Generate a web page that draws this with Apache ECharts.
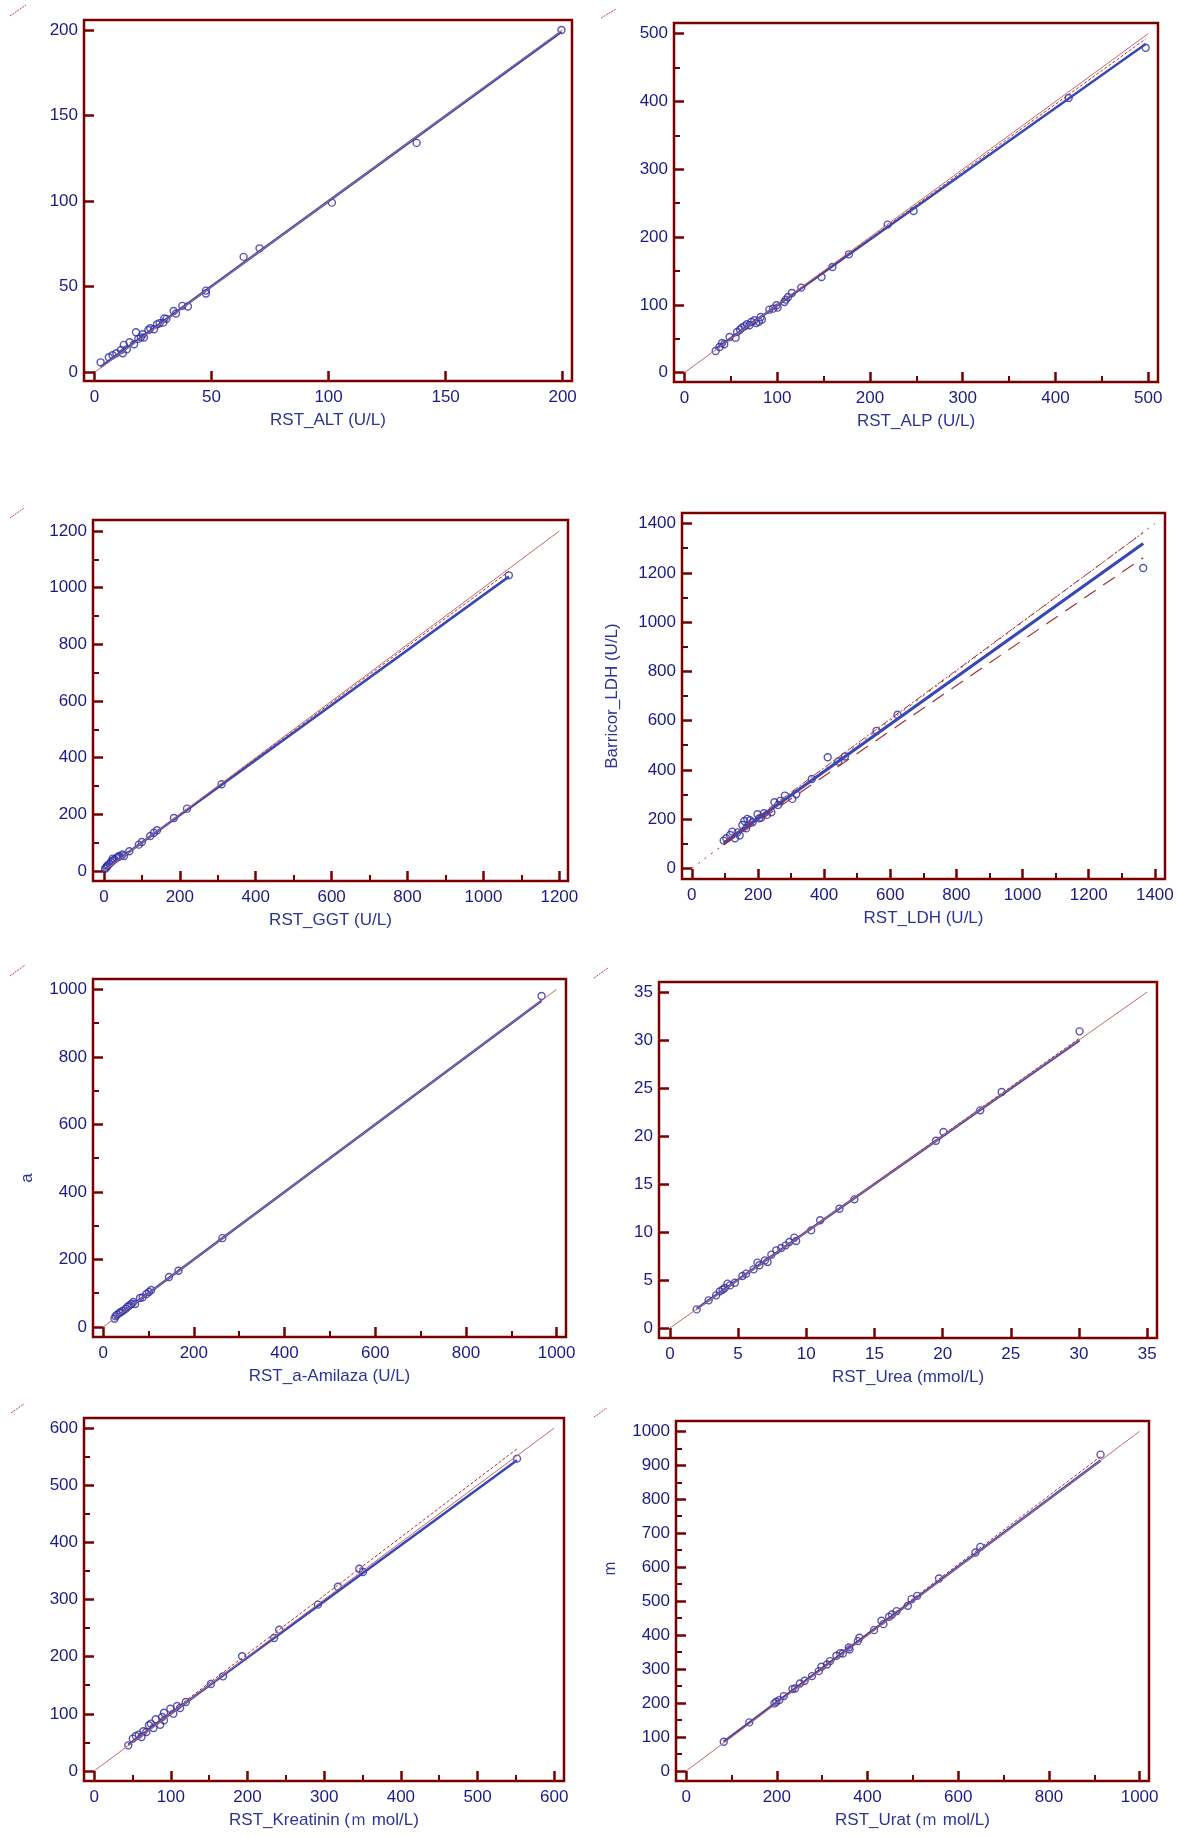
<!DOCTYPE html>
<html><head><meta charset="utf-8">
<script src="https://cdn.jsdelivr.net/npm/echarts@6.0.0/dist/echarts.min.js"></script>
<style>html,body{margin:0;padding:0;background:#fff}#c{width:1179px;height:1837px}</style>
</head><body><div id="c"></div>
<script>
// ---------------- DATA ----------------
const altX = [2.6,6.1,7.7,9.3,11.3,12.1,12.5,13.8,15.0,16.9,17.7,18.7,19.8,20.6,21.1,23.0,23.8,25.4,26.7,27.8,29.4,29.8,30.7,33.8,34.8,37.5,39.9,47.6,47.6,63.7,70.5,101.4,137.6,199.5];
const altY = [5.8,8.8,9.9,11.1,13.0,11.1,16.0,13.4,17.5,16.4,23.4,19.5,20.4,22.2,20.3,24.7,25.7,25.1,28.0,28.6,29.0,31.5,31.2,35.8,34.3,38.8,38.4,47.7,46.0,67.4,72.4,99.1,134.0,200.0];

const alpX = [33.6,37.7,40.5,42.9,48.6,55.1,56.7,59.9,61.9,64.8,67.2,70.0,72.1,75.3,77.3,80.2,82.2,83.4,91.5,95.5,99.2,100.4,107.7,109.3,111.7,115.8,125.9,147.8,159.5,177.3,219.0,247.0,414.2,497.2];
const alpY = [32.0,37.9,43.8,41.8,52.6,51.6,60.0,63.4,66.4,68.3,71.3,69.8,74.7,77.2,73.3,75.2,82.1,78.2,92.9,94.4,99.3,95.9,104.2,107.7,111.6,117.5,125.4,141.1,155.9,174.5,218.3,238.4,405.1,479.3];

const ggtX = [3,6,8,10,15,19,23,23,28,33,38,40,49,53,67,92,100,122,132,140,184.5,219,310,1067];
const ggtY = [8,11.8,16.5,20,26,32,36.5,43.6,41,46,49.5,53,58,53,69.5,93,102.5,123.7,135,143.7,187.3,220,306,1043.6];

const ldhX = [96.5,104.5,116,122.6,130.6,138.5,145,153,159,164.6,168,176,184,198.7,204,210,218,227,240.7,250,261,267,281.6,304,315.7,363,411,443,463,558.6,622,1364.8];
const ldhY = [112.5,122,135.5,149,122,146,133,176,192,162.6,200.6,195,187,219.5,203,206,223.6,217,227.7,268,257.5,273.7,295.4,282,300.8,363,451,433.7,454,558.3,623.4,1219.7];

const amiX = [24.9,27.4,30.7,35.7,39,44,49.8,54,58,62.2,66.4,70.5,81.3,87,95.4,101,106,145.2,166,263,966.8];
const amiY = [24.7,31.6,36.5,41.4,44.4,48.3,54.2,60.2,64,68,74,68,85.8,87.8,97.6,103.5,109.5,148,166.7,263.3,980.3];

const ureaX = [1.96,2.84,3.39,3.66,3.86,4.02,4.22,4.41,4.77,5.32,5.59,6.14,6.42,6.56,6.97,7.16,7.44,7.80,8.16,8.49,8.76,9.12,9.26,10.36,11.02,12.43,13.53,19.51,20.06,22.76,24.33,30.04];
const ureaY = [1.94,2.88,3.40,3.82,3.99,4.17,4.62,4.44,4.72,5.42,5.66,6.11,6.81,6.53,7.05,6.88,7.64,8.09,8.33,8.61,8.96,9.41,9.06,10.17,11.22,12.43,13.40,19.51,20.42,22.67,24.58,30.90];

const kreX = [44.6,50.4,54.4,58.3,61.7,64.2,68.1,71.5,74,77.4,80.3,86.2,88.6,91.1,91.1,99.4,103.3,108.2,112.1,119.5,152.3,168,193,234.6,241.4,291.9,317.8,345.8,350.6,551.4];
const kreY = [44.9,56.6,61.2,63.6,59.5,69.4,68.2,79.9,82.8,75.2,90.4,81,94.5,88.6,102,109,100.3,113.7,110.2,120.7,152.2,165.6,200.6,232.7,247.2,291,322.4,353.9,348.1,546.4];

const uratX = [82.9,139.2,194.7,198.8,205.5,215.4,234.5,240.3,251,261.4,277.5,292.5,298.3,310.7,317.3,331.4,339.7,345.5,358.7,360.4,378.6,382,414.3,430.8,435,447.4,454,464,488.8,497.1,509.5,557.6,638,648.7,913.8];
const uratY = [86.3,143.1,199,204,208.8,220.6,241.2,243.1,257.8,265.7,279.4,294.1,306.9,313.7,323.5,339.2,347,346,363.7,357.8,382.4,392.2,414.7,442.2,432.4,453.9,460.8,470.6,486.3,505.9,515.7,566.7,643.1,659.8,931.4];

const xTitles = ['RST_ALT (U/L)','RST_ALP (U/L)','RST_GGT (U/L)','RST_LDH (U/L)','RST_a-Amilaza (U/L)','RST_Urea (mmol/L)','RST_Kreatinin (ｍ mol/L)','RST_Urat (ｍ mol/L)'];
const yTitles = ['','','','Barricor_LDH (U/L)','a','','','ｍ'];

const xTicks = [[0,50,100,150,200],[0,100,200,300,400,500],[0,200,400,600,800,1000,1200],[0,200,400,600,800,1000,1200,1400],[0,200,400,600,800,1000],[0,5,10,15,20,25,30,35],[0,100,200,300,400,500,600],[0,200,400,600,800,1000]];
const yTicks = [[0,50,100,150,200],[0,100,200,300,400,500],[0,200,400,600,800,1000,1200],[0,200,400,600,800,1000,1200,1400],[0,200,400,600,800,1000],[0,5,10,15,20,25,30,35],[0,100,200,300,400,500,600],[0,100,200,300,400,500,600,700,800,900,1000]];
const xMinor = [[],[50,150,250,350,450],[100,300,500,700,900,1100],[100,300,500,700,900,1100,1300],[100,300,500,700,900],[],[50,150,250,350,450,550],[100,300,500,700,900]];
const yMinor = [[],[50,150,250,350,450],[100,300,500,700,900,1100],[100,300,500,700,900,1100,1300],[100,300,500,700,900],[],[50,150,250,350,450,550],[50,150,250,350,450,550,650,750,850,950]];

// regression fit (intercept, slope)
const regIntercept = [0.5, 2.3, 3, 9, 0.5, 0.05, 2.2, 3.3];
const regSlope     = [0.995, 0.970, 0.971, 0.96, 0.999, 0.996, 0.982, 0.997];
// confidence lines (null = not drawn)
const ciUpIntercept = [null, 0, 1, 12, null, 0, 1, 1];
const ciUpSlope     = [null, 0.99, 0.99, 0.99, null, 1.005, 1.02, 1.012];
const ciLoIntercept = [null, null, null, 6, null, null, null, null];
const ciLoSlope     = [null, null, null, 0.92, null, null, null, null];
const identityMax = [200, 500, 1200, 1400, 1000, 35, 600, 1000];

const seriesX = [altX, alpX, ggtX, ldhX, amiX, ureaX, kreX, uratX];
const seriesY = [altY, alpY, ggtY, ldhY, amiY, ureaY, kreY, uratY];

// ---------------- LAYOUT / STYLE ----------------
const grids = [
  {left:84, top:20, width:488, height:361},
  {left:674, top:23, width:484, height:359},
  {left:93, top:520, width:475, height:361},
  {left:682, top:513, width:483, height:366},
  {left:93, top:979, width:473, height:358},
  {left:659, top:982, width:498, height:356},
  {left:84, top:1418, width:480, height:363},
  {left:676, top:1421, width:473, height:360}
];
const xRange = [[-4.5,204],[-11.3,510.5],[-28.8,1222.8],[-29.5,1430.7],[-22.4,1020.7],[-0.8,35.72],[-13.2,612.7],[-22.4,1020.7]];
const yRange = [[-5.1,205.8],[-13.8,515.7],[-35.3,1238.9],[-43.4,1443],[-29.6,1030.6],[-1.04,36.04],[-17.5,617.5],[-29.4,1030.4]];
const yNamePad = [0,0,0,0,[0,40,0,0],0,0,[0,0,0,66]];
const yNameGap = [60,60,60,61,57,60,60,57];
const cornerMarks = [[10,16,26,5],[601,18,616,9],[10,518,24,508],[10,976,25,965],[594,978,608,968],[11,1413,24,1404],[594,1417,607,1408]];

const FONT = "'Liberation Sans', Arial, sans-serif";
const frameColor = '#7a0000';
const labelColor = '#1b1b88';
const titleColor = '#2c3498';
const pointColor = '#2b2ba8';
const regColor = '#3848b6';
const identColor = '#c56a6a';
const ciColor = '#a83030';
const fmt = v => String(v);

const option = {animation:false, backgroundColor:'#fff', grid:[], xAxis:[], yAxis:[], series:[], graphic:[]};

for (let i = 0; i < 8; i++) {
  option.grid.push(Object.assign({show:true, borderColor:frameColor, borderWidth:2.5, backgroundColor:'rgba(0,0,0,0)'}, grids[i]));
  const xi = option.xAxis.length;
  option.xAxis.push({
    type:'value', gridIndex:i, min:xRange[i][0], max:xRange[i][1], position:'bottom',
    axisLine:{show:false, onZero:false}, splitLine:{show:false},
    axisTick:{show:true, inside:true, length:10, customValues:xTicks[i], lineStyle:{color:frameColor, width:2.5}},
    axisLabel:{show:true, customValues:xTicks[i], formatter:fmt, margin:8, color:labelColor, fontSize:17, fontFamily:FONT},
    name:xTitles[i], nameLocation:'middle', nameGap:31,
    nameTextStyle:{color:titleColor, fontSize:17, fontFamily:FONT}
  });
  if (xMinor[i].length) option.xAxis.push({
    type:'value', gridIndex:i, min:xRange[i][0], max:xRange[i][1], position:'bottom',
    axisLine:{show:false, onZero:false}, splitLine:{show:false}, axisLabel:{show:false},
    axisTick:{show:true, inside:true, length:6, customValues:xMinor[i], lineStyle:{color:frameColor, width:2}}
  });
  const yi = option.yAxis.length;
  option.yAxis.push({
    type:'value', gridIndex:i, min:yRange[i][0], max:yRange[i][1], position:'left',
    axisLine:{show:false, onZero:false}, splitLine:{show:false},
    axisTick:{show:true, inside:true, length:10, customValues:yTicks[i], lineStyle:{color:frameColor, width:2.5}},
    axisLabel:{show:true, customValues:yTicks[i], formatter:fmt, margin:6, color:labelColor, fontSize:17, fontFamily:FONT},
    name:yTitles[i], nameLocation:'middle', nameGap:yNameGap[i],
    nameTextStyle:{color:titleColor, fontSize:17, fontFamily:FONT, padding:yNamePad[i]}
  });
  if (yMinor[i].length) option.yAxis.push({
    type:'value', gridIndex:i, min:yRange[i][0], max:yRange[i][1], position:'left',
    axisLine:{show:false, onZero:false}, splitLine:{show:false}, axisLabel:{show:false},
    axisTick:{show:true, inside:true, length:6, customValues:yMinor[i], lineStyle:{color:frameColor, width:2}}
  });

  const X = seriesX[i], Y = seriesY[i];
  const xmin = Math.min(...X), xmax = Math.max(...X);
  option.series.push({
    type:'scatter', xAxisIndex:xi, yAxisIndex:yi, symbol:'circle', symbolSize:7, z:3,
    data:X.map((v,k)=>[v, Y[k]]),
    itemStyle:{color:'rgba(0,0,0,0)', borderColor:pointColor, borderWidth:1.4}
  });
  const line = (a, b) => [[xmin, a + b*xmin], [xmax, a + b*xmax]];
  option.series.push({
    type:'line', xAxisIndex:xi, yAxisIndex:yi, symbol:'none', z:4, silent:true,
    data:line(regIntercept[i], regSlope[i]),
    lineStyle:{color:regColor, width:(i===3?3.2:2.5)}
  });
  if (ciUpSlope[i] !== null) option.series.push({
    type:'line', xAxisIndex:xi, yAxisIndex:yi, symbol:'none', z:5, silent:true,
    data:line(ciUpIntercept[i], ciUpSlope[i]),
    lineStyle:{color:ciColor, width:1, type:(i===3?[8,2,2,2]:[3,2])}
  });
  if (ciLoSlope[i] !== null) option.series.push({
    type:'line', xAxisIndex:xi, yAxisIndex:yi, symbol:'none', z:5, silent:true,
    data:line(ciLoIntercept[i], ciLoSlope[i]),
    lineStyle:{color:ciColor, width:1.2, type:[14,9]}
  });
  option.series.push({
    type:'line', xAxisIndex:xi, yAxisIndex:yi, symbol:'none', z:6, silent:true,
    data:[[0,0],[identityMax[i], identityMax[i]]],
    lineStyle:{color:(i===3?ciColor:identColor), width:1, type:(i===3?[2,6]:'solid')}
  });
}

option.graphic = cornerMarks.map(m => ({
  type:'line', shape:{x1:m[0], y1:m[1], x2:m[2], y2:m[3]},
  style:{stroke:'#c04040', lineWidth:1, lineDash:[2,1]}
}));

const chart = echarts.init(document.getElementById('c'), null, {renderer:'canvas'});
chart.setOption(option);
</script>
</body></html>
